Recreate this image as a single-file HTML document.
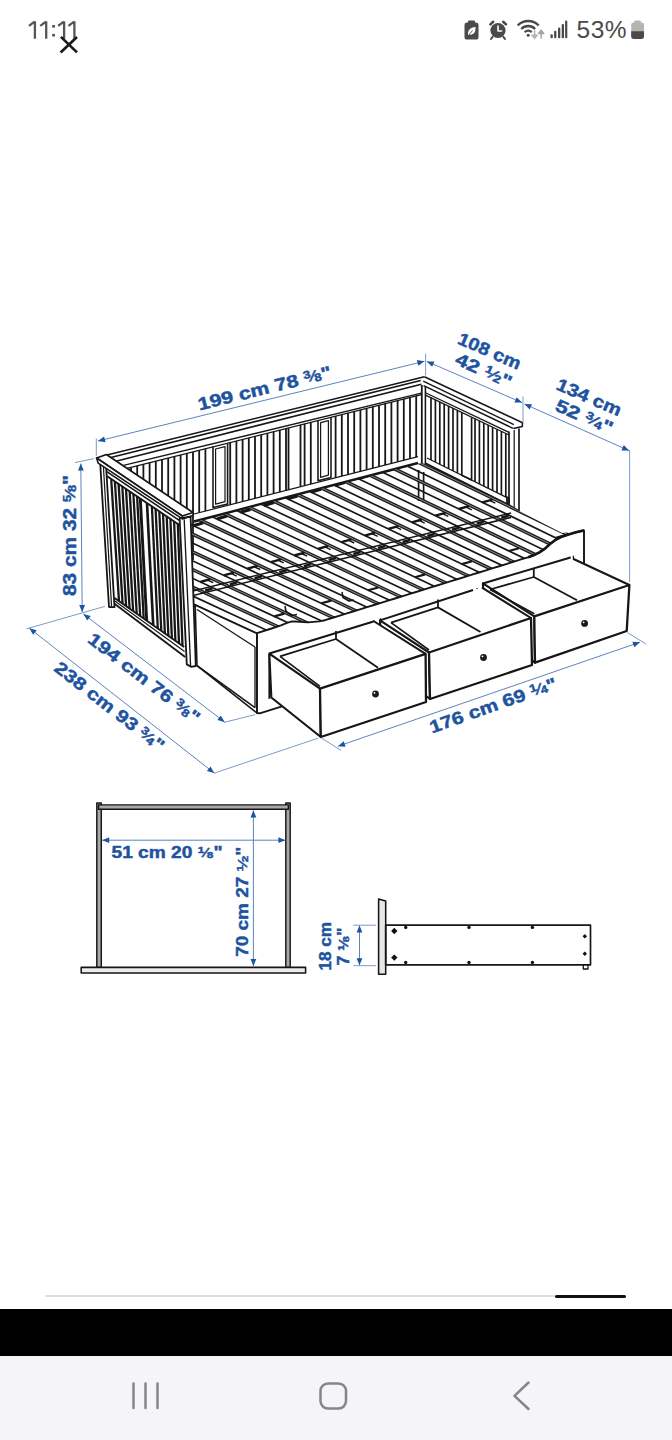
<!DOCTYPE html>
<html>
<head>
<meta charset="utf-8">
<title>Daybed dimensions</title>
<style>
  html, body { margin: 0; padding: 0; }
  body {
    width: 672px; height: 1440px; overflow: hidden; position: relative;
    background: #ffffff;
    font-family: "Liberation Sans", sans-serif;
  }
  .abs { position: absolute; }
  #pct  { left: 576.5px; top: 16px; font-size: 24.5px; line-height: 28px; color: #4a4a4a; letter-spacing: 0.55px; }
  #track { left: 45px; top: 1295.3px; width: 581px; height: 2.2px; background: #dedede; border-radius: 1px; }
  #thumb { left: 555px; top: 1294.6px; width: 71px; height: 3.4px; background: #111; border-radius: 1.7px; }
  #blackbar { left: 0; top: 1309px; width: 672px; height: 47px; background: #000; }
  #navbar { left: 0; top: 1356px; width: 672px; height: 84px; background: #f5f5f7; }
  svg { position: absolute; left: 0; top: 0; }
</style>
</head>
<body>
<div class="abs" id="pct">53%</div>
<div class="abs" id="track"></div>
<div class="abs" id="thumb"></div>
<div class="abs" id="blackbar"></div>
<div class="abs" id="navbar"></div>
<svg id="drawing" width="672" height="1440" viewBox="0 0 672 1440">
<g id="back">
<path d="M104.9 455.4L424.4 376.8" stroke="#161616" stroke-width="1.56" fill="none"/>
<path d="M110.8 457.5L420.7 380.5" stroke="#161616" stroke-width="1.56" fill="none"/>
<path d="M116.8 460.9L421.4 384.2" stroke="#161616" stroke-width="1.56" fill="none"/>
<path d="M123.5 465.4L421.4 393.2" stroke="#161616" stroke-width="1.32" fill="none"/>
<path d="M127 468.4L421.4 394.6" stroke="#161616" stroke-width="1.32" fill="none"/>
<path d="M131 467.4L131 560" stroke="#161616" stroke-width="1.8" fill="none"/>
<path d="M137.2 465.8L137.2 560" stroke="#161616" stroke-width="1.8" fill="none"/>
<path d="M143.4 464.3L143.4 560" stroke="#161616" stroke-width="1.8" fill="none"/>
<path d="M149.6 462.7L149.6 560" stroke="#161616" stroke-width="1.8" fill="none"/>
<path d="M155.8 461.2L155.8 560" stroke="#161616" stroke-width="1.8" fill="none"/>
<path d="M162 459.6L162 560" stroke="#161616" stroke-width="1.8" fill="none"/>
<path d="M168.2 458.1L168.2 560" stroke="#161616" stroke-width="1.8" fill="none"/>
<path d="M174.4 456.5L174.4 560" stroke="#161616" stroke-width="1.8" fill="none"/>
<path d="M180.6 455L180.6 560" stroke="#161616" stroke-width="1.8" fill="none"/>
<path d="M186.8 453.4L186.8 560" stroke="#161616" stroke-width="1.8" fill="none"/>
<path d="M193 451.9L193 560" stroke="#161616" stroke-width="1.8" fill="none"/>
<path d="M199.2 450.3L199.2 512.7" stroke="#161616" stroke-width="1.8" fill="none"/>
<path d="M205.4 448.7L205.4 511.1" stroke="#161616" stroke-width="1.8" fill="none"/>
<path d="M230.2 442.5L230.2 504.7" stroke="#161616" stroke-width="1.8" fill="none"/>
<path d="M236.4 441L236.4 503.1" stroke="#161616" stroke-width="1.8" fill="none"/>
<path d="M242.6 439.4L242.6 501.5" stroke="#161616" stroke-width="1.8" fill="none"/>
<path d="M248.8 437.9L248.8 500" stroke="#161616" stroke-width="1.8" fill="none"/>
<path d="M255 436.3L255 498.4" stroke="#161616" stroke-width="1.8" fill="none"/>
<path d="M261.2 434.8L261.2 496.8" stroke="#161616" stroke-width="1.8" fill="none"/>
<path d="M267.4 433.2L267.4 495.2" stroke="#161616" stroke-width="1.8" fill="none"/>
<path d="M273.6 431.7L273.6 493.6" stroke="#161616" stroke-width="1.8" fill="none"/>
<path d="M279.8 430.1L279.8 492" stroke="#161616" stroke-width="1.8" fill="none"/>
<path d="M286 428.5L286 490.4" stroke="#161616" stroke-width="1.8" fill="none"/>
<path d="M304.6 423.9L304.6 485.7" stroke="#161616" stroke-width="1.8" fill="none"/>
<path d="M310.8 422.3L310.8 484.1" stroke="#161616" stroke-width="1.8" fill="none"/>
<path d="M335.6 416.1L335.6 477.7" stroke="#161616" stroke-width="1.8" fill="none"/>
<path d="M341.8 414.6L341.8 476.1" stroke="#161616" stroke-width="1.8" fill="none"/>
<path d="M348 413L348 474.5" stroke="#161616" stroke-width="1.8" fill="none"/>
<path d="M354.2 411.4L354.2 472.9" stroke="#161616" stroke-width="1.8" fill="none"/>
<path d="M360.4 409.9L360.4 471.4" stroke="#161616" stroke-width="1.8" fill="none"/>
<path d="M366.6 408.3L366.6 469.8" stroke="#161616" stroke-width="1.8" fill="none"/>
<path d="M372.8 406.8L372.8 468.2" stroke="#161616" stroke-width="1.8" fill="none"/>
<path d="M379 405.2L379 466.6" stroke="#161616" stroke-width="1.8" fill="none"/>
<path d="M385.2 403.7L385.2 465" stroke="#161616" stroke-width="1.8" fill="none"/>
<path d="M391.4 402.1L391.4 463.4" stroke="#161616" stroke-width="1.8" fill="none"/>
<path d="M397.6 400.6L397.6 461.8" stroke="#161616" stroke-width="1.8" fill="none"/>
<path d="M403.8 399L403.8 460.2" stroke="#161616" stroke-width="1.8" fill="none"/>
<path d="M410 397.5L410 458.7" stroke="#161616" stroke-width="1.8" fill="none"/>
<path d="M416.2 395.9L416.2 457.1" stroke="#161616" stroke-width="1.8" fill="none"/>
<path d="M213 446.8L213 507.6L227.6 503.9L227.6 443.2" stroke="#161616" stroke-width="1.56" fill="none" stroke-linejoin="round"/>
<path d="M215.6 449L215.6 504.2L225 501.7L225 446.6Z" stroke="#161616" stroke-width="1.2" fill="none" stroke-linejoin="round"/>
<path d="M318 420.5L318 480.7L331 477.4L331 417.3" stroke="#161616" stroke-width="1.56" fill="none" stroke-linejoin="round"/>
<path d="M320.6 422.7L320.6 477.3L328.4 475.2L328.4 420.7Z" stroke="#161616" stroke-width="1.2" fill="none" stroke-linejoin="round"/>
<path d="M288.5 427.9L288.5 489.8" stroke="#161616" stroke-width="1.8" fill="none"/>
<path d="M300.5 424.9L300.5 486.7" stroke="#161616" stroke-width="1.8" fill="none"/>
<path d="M194 514L418 456.6" stroke="#161616" stroke-width="1.2" fill="none"/>
<path d="M194 521.5L418 463" stroke="#161616" stroke-width="2.4" fill="none"/>
</g>
<g id="right">
<path d="M424.4 376.8L522.5 422.7L522.3 426.4L513.4 428.6" stroke="#161616" stroke-width="1.56" fill="none" stroke-linejoin="round"/>
<path d="M423.2 381.2L513.8 424.6" stroke="#161616" stroke-width="1.44" fill="none"/>
<path d="M423.6 385.6L513 428.4" stroke="#161616" stroke-width="1.56" fill="none"/>
<path d="M426 393L509 432.4" stroke="#161616" stroke-width="1.32" fill="none"/>
<path d="M426 395.4L509 435" stroke="#161616" stroke-width="1.32" fill="none"/>
<path d="M431 397.8L431 460" stroke="#161616" stroke-width="1.68" fill="none"/>
<path d="M435.4 399.9L435.4 462.2" stroke="#161616" stroke-width="1.68" fill="none"/>
<path d="M439.8 402L439.8 464.3" stroke="#161616" stroke-width="1.68" fill="none"/>
<path d="M444.2 404.1L444.2 466.5" stroke="#161616" stroke-width="1.68" fill="none"/>
<path d="M448.6 406.2L448.6 468.7" stroke="#161616" stroke-width="1.68" fill="none"/>
<path d="M453 408.3L453 470.9" stroke="#161616" stroke-width="1.68" fill="none"/>
<path d="M457.4 410.4L457.4 473.1" stroke="#161616" stroke-width="1.68" fill="none"/>
<path d="M475 418.8L475 481.8" stroke="#161616" stroke-width="1.68" fill="none"/>
<path d="M479.4 420.9L479.4 483.9" stroke="#161616" stroke-width="1.68" fill="none"/>
<path d="M483.8 423L483.8 486.1" stroke="#161616" stroke-width="1.68" fill="none"/>
<path d="M488.2 425.1L488.2 488.3" stroke="#161616" stroke-width="1.68" fill="none"/>
<path d="M492.6 427.2L492.6 490.5" stroke="#161616" stroke-width="1.68" fill="none"/>
<path d="M497 429.3L497 492.7" stroke="#161616" stroke-width="1.68" fill="none"/>
<path d="M501.4 431.4L501.4 494.8" stroke="#161616" stroke-width="1.68" fill="none"/>
<path d="M505.8 433.5L505.8 497" stroke="#161616" stroke-width="1.68" fill="none"/>
<path d="M461.8 412.5L461.8 475.2L471.6 480.1L471.6 417.2" stroke="#161616" stroke-width="1.68" fill="none" stroke-linejoin="round"/>
<path d="M427 458L509 498.6" stroke="#161616" stroke-width="1.2" fill="none"/>
<path d="M425 463L510 505.6" stroke="#161616" stroke-width="1.92" fill="none"/>
<path d="M421.8 385L421.8 464" stroke="#161616" stroke-width="1.8" fill="none" stroke-linejoin="round"/>
<path d="M425.4 386.5L425.4 463.5" stroke="#161616" stroke-width="1.56" fill="none" stroke-linejoin="round"/>
<path d="M509 431.5L509 505L519 511L519 428.5" stroke="#161616" stroke-width="1.68" fill="#fff" stroke-linejoin="round"/>
<path d="M514.2 430L514.2 508" stroke="#161616" stroke-width="1.2" fill="none"/>
<path d="M506.6 496.5L506.6 503.5L509.4 505L509.4 498Z" stroke="#161616" stroke-width="0.96" fill="#222" stroke-linejoin="round"/>
</g>
<g id="base">
<clipPath id="baseclip"><path d="M190 523 L418 463.6 L425 463.4 L510 505.6 L519 511 L562 533 L583.4 531 L583.4 562 L262 652 L255 634 L190 606 Z"/></clipPath>
<g clip-path="url(#baseclip)">
<path d="M418.6 470L418.6 501" stroke="#161616" stroke-width="1.68" fill="none" stroke-linejoin="round"/>
<path d="M423.6 472L423.6 503" stroke="#161616" stroke-width="1.68" fill="none" stroke-linejoin="round"/>
<path d="M407.6 457.1L594.1 547.4" stroke="#1c1c1c" stroke-width="3.5" fill="none"/>
<path d="M407.6 457.1L594.1 547.4" stroke="#9a9a9a" stroke-width="0.9" fill="none"/>
<path d="M395.8 460.5L582.3 550.7" stroke="#161616" stroke-width="1.68" fill="none"/>
<path d="M415.4 462.2L405.3 465.1" stroke="#161616" stroke-width="3.12" fill="none"/>
<path d="M492.4 499.6L482.4 502.4" stroke="#161616" stroke-width="2.4" fill="none"/>
<path d="M489.5 500.4L495.3 503.2" stroke="#161616" stroke-width="1.44" fill="none"/>
<path d="M565.9 535.1L555.9 537.9" stroke="#161616" stroke-width="2.16" fill="none"/>
<path d="M508.5 515.7L501.2 517.7" stroke="#161616" stroke-width="2.64" fill="none"/>
<path d="M384 463.8L570.6 553.9" stroke="#1c1c1c" stroke-width="3.5" fill="none"/>
<path d="M384 463.8L570.6 553.9" stroke="#9a9a9a" stroke-width="0.9" fill="none"/>
<path d="M372.2 467.2L558.9 557.2" stroke="#161616" stroke-width="1.68" fill="none"/>
<path d="M391.8 469L381.8 471.8" stroke="#161616" stroke-width="3.12" fill="none"/>
<path d="M468.9 506.2L458.9 509" stroke="#161616" stroke-width="2.4" fill="none"/>
<path d="M466 507L471.8 509.8" stroke="#161616" stroke-width="1.44" fill="none"/>
<path d="M483.9 521.8L476.6 523.8" stroke="#161616" stroke-width="2.64" fill="none"/>
<path d="M360.5 470.6L547.2 560.4" stroke="#1c1c1c" stroke-width="3.5" fill="none"/>
<path d="M360.5 470.6L547.2 560.4" stroke="#9a9a9a" stroke-width="0.9" fill="none"/>
<path d="M348.6 474L535.4 563.7" stroke="#161616" stroke-width="1.68" fill="none"/>
<path d="M368.2 475.7L358.2 478.6" stroke="#161616" stroke-width="3.12" fill="none"/>
<path d="M445.4 512.8L435.4 515.7" stroke="#161616" stroke-width="2.4" fill="none"/>
<path d="M442.5 513.7L448.3 516.4" stroke="#161616" stroke-width="1.44" fill="none"/>
<path d="M518.9 548.2L509 551" stroke="#161616" stroke-width="2.16" fill="none"/>
<path d="M459.2 527.8L451.9 529.8" stroke="#161616" stroke-width="2.64" fill="none"/>
<path d="M336.9 477.3L523.8 566.9" stroke="#1c1c1c" stroke-width="3.5" fill="none"/>
<path d="M336.9 477.3L523.8 566.9" stroke="#9a9a9a" stroke-width="0.9" fill="none"/>
<path d="M325.1 480.7L512 570.2" stroke="#161616" stroke-width="1.68" fill="none"/>
<path d="M344.7 482.4L334.7 485.3" stroke="#161616" stroke-width="3.12" fill="none"/>
<path d="M421.9 519.5L411.9 522.3" stroke="#161616" stroke-width="2.4" fill="none"/>
<path d="M419 520.3L424.7 523.1" stroke="#161616" stroke-width="1.44" fill="none"/>
<path d="M434.6 533.9L427.3 535.9" stroke="#161616" stroke-width="2.64" fill="none"/>
<path d="M313.4 484.1L500.3 573.4" stroke="#1c1c1c" stroke-width="3.5" fill="none"/>
<path d="M313.4 484.1L500.3 573.4" stroke="#9a9a9a" stroke-width="0.9" fill="none"/>
<path d="M301.5 487.5L488.5 576.7" stroke="#161616" stroke-width="1.68" fill="none"/>
<path d="M321.1 489.2L311.1 492" stroke="#161616" stroke-width="3.12" fill="none"/>
<path d="M398.4 526.1L388.4 528.9" stroke="#161616" stroke-width="2.4" fill="none"/>
<path d="M395.5 526.9L401.2 529.7" stroke="#161616" stroke-width="1.44" fill="none"/>
<path d="M472 561.3L462 564.1" stroke="#161616" stroke-width="2.16" fill="none"/>
<path d="M409.9 539.9L402.6 542" stroke="#161616" stroke-width="2.64" fill="none"/>
<path d="M289.8 490.8L476.9 580" stroke="#1c1c1c" stroke-width="3.5" fill="none"/>
<path d="M289.8 490.8L476.9 580" stroke="#9a9a9a" stroke-width="0.9" fill="none"/>
<path d="M277.9 494.2L465.1 583.2" stroke="#161616" stroke-width="1.68" fill="none"/>
<path d="M297.6 495.9L287.6 498.8" stroke="#161616" stroke-width="3.12" fill="none"/>
<path d="M374.9 532.7L364.9 535.6" stroke="#161616" stroke-width="2.4" fill="none"/>
<path d="M371.9 533.6L377.7 536.3" stroke="#161616" stroke-width="1.44" fill="none"/>
<path d="M385.2 546L378 548" stroke="#161616" stroke-width="2.64" fill="none"/>
<path d="M266.2 497.6L453.4 586.5" stroke="#1c1c1c" stroke-width="3.5" fill="none"/>
<path d="M266.2 497.6L453.4 586.5" stroke="#9a9a9a" stroke-width="0.9" fill="none"/>
<path d="M254.4 500.9L441.6 589.7" stroke="#161616" stroke-width="1.68" fill="none"/>
<path d="M274 502.6L264 505.5" stroke="#161616" stroke-width="3.12" fill="none"/>
<path d="M351.4 539.4L341.4 542.2" stroke="#161616" stroke-width="2.4" fill="none"/>
<path d="M348.4 540.2L354.2 543" stroke="#161616" stroke-width="1.44" fill="none"/>
<path d="M425.1 574.4L415.1 577.2" stroke="#161616" stroke-width="2.16" fill="none"/>
<path d="M360.6 552L353.3 554.1" stroke="#161616" stroke-width="2.64" fill="none"/>
<path d="M242.7 504.3L430 593" stroke="#1c1c1c" stroke-width="3.5" fill="none"/>
<path d="M242.7 504.3L430 593" stroke="#9a9a9a" stroke-width="0.9" fill="none"/>
<path d="M230.8 507.7L418.2 596.2" stroke="#161616" stroke-width="1.68" fill="none"/>
<path d="M250.5 509.4L240.4 512.2" stroke="#161616" stroke-width="3.12" fill="none"/>
<path d="M327.9 546L317.9 548.8" stroke="#161616" stroke-width="2.4" fill="none"/>
<path d="M324.9 546.8L330.7 549.6" stroke="#161616" stroke-width="1.44" fill="none"/>
<path d="M335.9 558.1L328.6 560.1" stroke="#161616" stroke-width="2.64" fill="none"/>
<path d="M219.1 511.1L406.5 599.5" stroke="#1c1c1c" stroke-width="3.5" fill="none"/>
<path d="M219.1 511.1L406.5 599.5" stroke="#9a9a9a" stroke-width="0.9" fill="none"/>
<path d="M207.3 514.4L394.8 602.8" stroke="#161616" stroke-width="1.68" fill="none"/>
<path d="M226.9 516.1L216.9 519" stroke="#161616" stroke-width="3.12" fill="none"/>
<path d="M304.4 552.6L294.4 555.5" stroke="#161616" stroke-width="2.4" fill="none"/>
<path d="M301.4 553.5L307.2 556.2" stroke="#161616" stroke-width="1.44" fill="none"/>
<path d="M378.2 587.5L368.2 590.2" stroke="#161616" stroke-width="2.16" fill="none"/>
<path d="M311.2 564.1L304 566.2" stroke="#161616" stroke-width="2.64" fill="none"/>
<path d="M195.5 517.8L383.1 606" stroke="#1c1c1c" stroke-width="3.5" fill="none"/>
<path d="M195.5 517.8L383.1 606" stroke="#9a9a9a" stroke-width="0.9" fill="none"/>
<path d="M183.7 521.2L371.3 609.3" stroke="#161616" stroke-width="1.68" fill="none"/>
<path d="M203.3 522.8L193.3 525.7" stroke="#161616" stroke-width="3.12" fill="none"/>
<path d="M280.9 559.3L270.9 562.1" stroke="#161616" stroke-width="2.4" fill="none"/>
<path d="M277.9 560.1L283.7 562.8" stroke="#161616" stroke-width="1.44" fill="none"/>
<path d="M286.6 570.2L279.3 572.2" stroke="#161616" stroke-width="2.64" fill="none"/>
<path d="M172 524.5L359.6 612.5" stroke="#1c1c1c" stroke-width="3.5" fill="none"/>
<path d="M172 524.5L359.6 612.5" stroke="#9a9a9a" stroke-width="0.9" fill="none"/>
<path d="M160.1 527.9L347.9 615.8" stroke="#161616" stroke-width="1.68" fill="none"/>
<path d="M179.8 529.6L169.8 532.4" stroke="#161616" stroke-width="3.12" fill="none"/>
<path d="M257.3 565.9L247.4 568.7" stroke="#161616" stroke-width="2.4" fill="none"/>
<path d="M254.4 566.8L260.2 569.5" stroke="#161616" stroke-width="1.44" fill="none"/>
<path d="M331.3 600.6L321.3 603.3" stroke="#161616" stroke-width="2.16" fill="none"/>
<path d="M261.9 576.2L254.6 578.3" stroke="#161616" stroke-width="2.64" fill="none"/>
<path d="M148.4 531.3L336.2 619" stroke="#1c1c1c" stroke-width="3.5" fill="none"/>
<path d="M148.4 531.3L336.2 619" stroke="#9a9a9a" stroke-width="0.9" fill="none"/>
<path d="M136.6 534.7L324.4 622.3" stroke="#161616" stroke-width="1.68" fill="none"/>
<path d="M156.2 536.3L146.2 539.2" stroke="#161616" stroke-width="3.12" fill="none"/>
<path d="M233.8 572.6L223.8 575.4" stroke="#161616" stroke-width="2.4" fill="none"/>
<path d="M230.9 573.4L236.7 576.1" stroke="#161616" stroke-width="1.44" fill="none"/>
<path d="M237.2 582.3L229.9 584.4" stroke="#161616" stroke-width="2.64" fill="none"/>
<path d="M124.8 538L312.8 625.5" stroke="#1c1c1c" stroke-width="3.5" fill="none"/>
<path d="M124.8 538L312.8 625.5" stroke="#9a9a9a" stroke-width="0.9" fill="none"/>
<path d="M113 541.4L301 628.8" stroke="#161616" stroke-width="1.68" fill="none"/>
<path d="M132.7 543.1L122.7 545.9" stroke="#161616" stroke-width="3.12" fill="none"/>
<path d="M210.3 579.2L200.3 582" stroke="#161616" stroke-width="2.4" fill="none"/>
<path d="M207.4 580L213.2 582.7" stroke="#161616" stroke-width="1.44" fill="none"/>
<path d="M284.3 613.6L274.4 616.4" stroke="#161616" stroke-width="2.16" fill="none"/>
<path d="M212.5 588.4L205.2 590.4" stroke="#161616" stroke-width="2.64" fill="none"/>
<path d="M101.3 544.8L289.3 632" stroke="#1c1c1c" stroke-width="3.5" fill="none"/>
<path d="M101.3 544.8L289.3 632" stroke="#9a9a9a" stroke-width="0.9" fill="none"/>
<path d="M89.4 548.2L277.5 635.3" stroke="#161616" stroke-width="1.68" fill="none"/>
<path d="M109.1 549.8L99.1 552.6" stroke="#161616" stroke-width="3.12" fill="none"/>
<path d="M186.8 585.8L176.8 588.7" stroke="#161616" stroke-width="2.4" fill="none"/>
<path d="M183.9 586.7L189.7 589.4" stroke="#161616" stroke-width="1.44" fill="none"/>
<path d="M187.8 594.4L180.5 596.5" stroke="#161616" stroke-width="2.64" fill="none"/>
<path d="M77.7 551.5L265.9 638.5" stroke="#1c1c1c" stroke-width="3.5" fill="none"/>
<path d="M77.7 551.5L265.9 638.5" stroke="#9a9a9a" stroke-width="0.9" fill="none"/>
<path d="M65.9 554.9L254.1 641.8" stroke="#161616" stroke-width="1.68" fill="none"/>
<path d="M85.5 556.5L75.5 559.4" stroke="#161616" stroke-width="3.12" fill="none"/>
<path d="M163.3 592.5L153.3 595.3" stroke="#161616" stroke-width="2.4" fill="none"/>
<path d="M160.4 593.3L166.2 596" stroke="#161616" stroke-width="1.44" fill="none"/>
<path d="M237.4 626.7L227.4 629.5" stroke="#161616" stroke-width="2.16" fill="none"/>
<path d="M163.1 600.5L155.8 602.5" stroke="#161616" stroke-width="2.64" fill="none"/>
<path d="M190 591.8L511 513" stroke="#161616" stroke-width="1.5" fill="none"/>
<path d="M190 596.3L511 517.4" stroke="#161616" stroke-width="1.5" fill="none"/>
<path d="M285 606L286 611.5L292 615.5L297 614.5" stroke="#161616" stroke-width="1.56" fill="none" stroke-linejoin="round"/>
<path d="M342 592L343 597.5L349 601L354 600" stroke="#161616" stroke-width="1.56" fill="none" stroke-linejoin="round"/>
</g>
</g><g id="front">
<path d="M195.2 605L257 633.6L257 713L197 665.7Z" stroke="#161616" stroke-width="1.56" fill="#fff" stroke-linejoin="round"/>
<path d="M197 609.5L255 647" stroke="#161616" stroke-width="1.32" fill="none"/>
<path d="M255 647L255 707.7" stroke="#161616" stroke-width="1.32" fill="none"/>
<path d="M197 665.7L255 707.7" stroke="#161616" stroke-width="1.56" fill="none"/>
<path d="M257 633.2L270 629L281 625.4L287 622.8L292 621.4L300 621.8L308 622.4L319 621.4L325 620.2L332 618L339 615.9L346 613.7L353 611.5L360 609.4L367 607.2L374 605L381 602.8L388 600.7L395 598.5L402 596.3L409 594.2L416 592L423 589.8L430 587.6L437 585.5L444 583.3L451 581.1L458 579L465 576.8L472 574.6L479 572.5L486 570.3L493 568.1L500 566L507 563.8L514 561.6L521 559.4L528 557.3L533 555.5L539 552.6L545 548.6L550 544L555 540.2L561 537L568.6 534.4L576 532.2L584 530.4L584 566.5L571 556.7L269.3 654.5L269.3 698.8L259.7 713.3L257 713Z" stroke="none" stroke-width="0" fill="#fff" stroke-linejoin="round"/>
<path d="M269.3 654.5L269.3 698.8" stroke="#161616" stroke-width="1.8" fill="none" stroke-linejoin="round"/>
<path d="M282 706.4L259.7 713.3L257 713L257 633.2L270 629L281 625.4L287 622.8L292 621.4L300 621.8L308 622.4L319 621.4L325 620.2L332 618L339 615.9L346 613.7L353 611.5L360 609.4L367 607.2L374 605L381 602.8L388 600.7L395 598.5L402 596.3L409 594.2L416 592L423 589.8L430 587.6L437 585.5L444 583.3L451 581.1L458 579L465 576.8L472 574.6L479 572.5L486 570.3L493 568.1L500 566L507 563.8L514 561.6L521 559.4L528 557.3L533 555.5L539 552.6L545 548.6L550 544L555 540.2L561 537L568.6 534.4L576 532.2L584 530.4L584 566.5" stroke="#161616" stroke-width="1.92" fill="none" stroke-linejoin="round"/>
<path d="M528 557.3L533 555.5L539 552.6L545 548.6L550 544L555 540.2L561 537L568.6 534.4L576 532.2L584 530.4" stroke="#161616" stroke-width="2.64" fill="none" stroke-linejoin="round"/>
</g>
<g id="drawers">
<path d="M373.8 620.2L373.8 632L380.6 636L380.6 618.2" stroke="#161616" stroke-width="1.44" fill="#fff" stroke-linejoin="round"/>
<path d="M477.2 588L477.2 598L483.4 601L483.4 586" stroke="#161616" stroke-width="1.44" fill="#fff" stroke-linejoin="round"/>
<path d="M570.2 556.8L570.2 560.4L573.4 560.4L573.4 555.8" stroke="#161616" stroke-width="1.32" fill="none" stroke-linejoin="round"/>
<path d="M482.9 583.4L534.3 616.3L629.4 585L573 558.8L570.5 557.4Z" stroke="none" stroke-width="0" fill="#fff" stroke-linejoin="round"/>
<path d="M482.9 583.4L534.3 616.3L535 662.7L484.8 625.3Z" stroke="#161616" stroke-width="2.16" fill="#fff" stroke-linejoin="round"/>
<path d="M534.3 616.3L629.4 585L626.7 631L535 662.7Z" stroke="#161616" stroke-width="2.28" fill="#fff" stroke-linejoin="round"/>
<path d="M482.9 583.4L570.5 557.4" stroke="#161616" stroke-width="2.04" fill="none"/>
<path d="M629.4 585L573 558.8" stroke="#161616" stroke-width="2.04" fill="none"/>
<path d="M490 589.5L533.8 577" stroke="#161616" stroke-width="1.8" fill="none"/>
<path d="M533.8 568L533.8 577" stroke="#161616" stroke-width="1.8" fill="none"/>
<path d="M533.8 577L577 600.3" stroke="#161616" stroke-width="1.8" fill="none"/>
<path d="M490 589.5L534.3 613.7" stroke="#161616" stroke-width="1.68" fill="none"/>
<circle cx="584.6" cy="623.4" r="3.4" fill="#1a1a1a"/>
<circle cx="583.6" cy="622.3" r="0.9" fill="#fff"/>
<path d="M380 620.4L429 652.5L531 618L482 587.6L473 590Z" stroke="none" stroke-width="0" fill="#fff" stroke-linejoin="round"/>
<path d="M380 620.4L429 652.5L430 699L382.2 662.4Z" stroke="#161616" stroke-width="2.16" fill="#fff" stroke-linejoin="round"/>
<path d="M429 652.5L531 618L532 665L430 699Z" stroke="#161616" stroke-width="2.28" fill="#fff" stroke-linejoin="round"/>
<path d="M380 620.4L473 590" stroke="#161616" stroke-width="2.04" fill="none"/>
<path d="M531 618L482 587.6" stroke="#161616" stroke-width="2.04" fill="none"/>
<path d="M391 622.6L438 607.4" stroke="#161616" stroke-width="1.8" fill="none"/>
<path d="M438 599.5L438 607.4" stroke="#161616" stroke-width="1.8" fill="none"/>
<path d="M438 607.4L480.5 632" stroke="#161616" stroke-width="1.8" fill="none"/>
<path d="M391 622.6L429 650" stroke="#161616" stroke-width="1.68" fill="none"/>
<circle cx="483.5" cy="657.5" r="3.4" fill="#1a1a1a"/>
<circle cx="482.5" cy="656.4" r="0.9" fill="#fff"/>
<path d="M269.3 653.6L320 688.6L425.6 653.8L373.5 621L373.5 621.6Z" stroke="none" stroke-width="0" fill="#fff" stroke-linejoin="round"/>
<path d="M269.3 653.6L320 688.6L320.8 737L271.3 697.5Z" stroke="#161616" stroke-width="2.16" fill="#fff" stroke-linejoin="round"/>
<path d="M320 688.6L425.6 653.8L426 702L320.8 737Z" stroke="#161616" stroke-width="2.28" fill="#fff" stroke-linejoin="round"/>
<path d="M269.3 653.6L373.5 621.6" stroke="#161616" stroke-width="2.04" fill="none"/>
<path d="M425.6 653.8L373.5 621" stroke="#161616" stroke-width="2.04" fill="none"/>
<path d="M280 656.4L336 639" stroke="#161616" stroke-width="1.8" fill="none"/>
<path d="M336 631L336 639" stroke="#161616" stroke-width="1.8" fill="none"/>
<path d="M336 639L378 667.7" stroke="#161616" stroke-width="1.8" fill="none"/>
<path d="M280 656.4L320 686.4" stroke="#161616" stroke-width="1.68" fill="none"/>
<circle cx="375.5" cy="694" r="3.4" fill="#1a1a1a"/>
<circle cx="374.5" cy="692.9" r="0.9" fill="#fff"/>
</g>
<g id="left">
<path d="M96.6 458L106.4 454.5L193 512.5L193 515.4L190.6 517L195.8 666L187 665L184.5 657L114.5 604L114.5 607.2L109 607L100.2 466Z" stroke="none" stroke-width="0" fill="#fff" stroke-linejoin="round"/>
<path d="M111.2 479.1L119 601.1" stroke="#161616" stroke-width="2.28" fill="none"/>
<path d="M114.9 481.6L122.6 603.6" stroke="#161616" stroke-width="2.28" fill="none"/>
<path d="M118.6 484L126.1 606.1" stroke="#161616" stroke-width="2.28" fill="none"/>
<path d="M122.3 486.5L129.6 608.6" stroke="#161616" stroke-width="2.28" fill="none"/>
<path d="M126 489L133.1 611" stroke="#161616" stroke-width="2.28" fill="none"/>
<path d="M129.7 491.5L136.7 613.5" stroke="#161616" stroke-width="2.28" fill="none"/>
<path d="M133.4 494L140.2 616" stroke="#161616" stroke-width="2.28" fill="none"/>
<path d="M137.1 496.4L143.7 618.5" stroke="#161616" stroke-width="2.28" fill="none"/>
<path d="M151.9 506.4L157.8 628.5" stroke="#161616" stroke-width="2.28" fill="none"/>
<path d="M155.6 508.8L161.3 631" stroke="#161616" stroke-width="2.28" fill="none"/>
<path d="M159.3 511.3L164.9 633.5" stroke="#161616" stroke-width="2.28" fill="none"/>
<path d="M163 513.8L168.4 635.9" stroke="#161616" stroke-width="2.28" fill="none"/>
<path d="M166.7 516.3L171.9 638.4" stroke="#161616" stroke-width="2.28" fill="none"/>
<path d="M170.4 518.8L175.4 640.9" stroke="#161616" stroke-width="2.28" fill="none"/>
<path d="M174.1 521.2L179 643.4" stroke="#161616" stroke-width="2.28" fill="none"/>
<path d="M177.8 523.7L182.5 645.9" stroke="#161616" stroke-width="2.28" fill="none"/>
<path d="M140.3 498.6L146.7 620.7" stroke="#161616" stroke-width="2.88" fill="none"/>
<path d="M147 503.1L153.2 625.2" stroke="#161616" stroke-width="2.64" fill="none"/>
<path d="M106.4 471.4L179.6 520.6" stroke="#161616" stroke-width="1.56" fill="none"/>
<path d="M106.8 476L179.8 525.2" stroke="#161616" stroke-width="1.92" fill="none"/>
<path d="M114.5 598L184.2 647" stroke="#161616" stroke-width="1.92" fill="none"/>
<path d="M114.5 600.8L184.6 651.6" stroke="#161616" stroke-width="1.2" fill="none"/>
<path d="M114.5 603.8L185.2 657" stroke="#161616" stroke-width="1.8" fill="none"/>
<path d="M100.2 463L109 607L114.5 607.2L106.2 468Z" stroke="#161616" stroke-width="1.8" fill="#fff" stroke-linejoin="round"/>
<path d="M103.4 466L111.6 607" stroke="#161616" stroke-width="1.2" fill="none"/>
<path d="M179.6 518.4L186.8 664.4L191 666.8L195.8 666L190.6 516.6Z" stroke="#161616" stroke-width="1.8" fill="#fff" stroke-linejoin="round"/>
<path d="M184.2 519.4L190.6 666.4" stroke="#161616" stroke-width="1.32" fill="none"/>
<path d="M96.6 458L106.4 454.5L193 512.5L182.3 516Z" stroke="#161616" stroke-width="1.68" fill="#fff" stroke-linejoin="round"/>
<path d="M96.6 458L98.2 463.2L182.3 518.9L182.3 516Z" stroke="#161616" stroke-width="1.56" fill="#fff" stroke-linejoin="round"/>
<path d="M193 512.5L193 515.4L182.3 518.9" stroke="#161616" stroke-width="1.56" fill="none" stroke-linejoin="round"/>
</g><g id="dims">
<path d="M96.3 438.4L96.3 455.8" stroke="#7a9bca" stroke-width="1.0" fill="none"/>
<path d="M425.6 353.6L425.6 375.4" stroke="#7a9bca" stroke-width="1.0" fill="none"/>
<path d="M98 441L424.4 361.3" stroke="#5c84bd" stroke-width="1.0" fill="none"/>
<path d="M98 441L104.1 436.5L105.5 442.2Z" fill="#1d539f"/>
<path d="M424.4 361.3L418.3 365.8L416.9 360.1Z" fill="#1d539f"/>
<path d="M523 396.4L523 422.6" stroke="#7a9bca" stroke-width="1.0" fill="none"/>
<path d="M426.8 361.4L522 402.6" stroke="#5c84bd" stroke-width="1.0" fill="none"/>
<path d="M426.8 361.4L434.4 361.5L432.1 366.8Z" fill="#1d539f"/>
<path d="M522 402.6L514.4 402.5L516.7 397.2Z" fill="#1d539f"/>
<path d="M629.6 450L629.6 582" stroke="#7a9bca" stroke-width="1.0" fill="none"/>
<path d="M524.4 404L629 450.6" stroke="#5c84bd" stroke-width="1.0" fill="none"/>
<path d="M524.4 404L532 404.2L529.6 409.5Z" fill="#1d539f"/>
<path d="M629 450.6L621.4 450.4L623.8 445.1Z" fill="#1d539f"/>
<path d="M75 462.6L93.8 458.6" stroke="#7a9bca" stroke-width="1.0" fill="none"/>
<path d="M26.6 628.8L104.8 606.4" stroke="#7a9bca" stroke-width="1.0" fill="none"/>
<path d="M80.8 463.6L82.2 612" stroke="#5c84bd" stroke-width="1.0" fill="none"/>
<path d="M80.8 463.6L83.8 470.6L78 470.6Z" fill="#1d539f"/>
<path d="M82.2 612L79.2 605L85 605Z" fill="#1d539f"/>
<path d="M224 722.4L255.4 714.6" stroke="#7a9bca" stroke-width="1.0" fill="none"/>
<path d="M83.4 614L224.6 722" stroke="#5c84bd" stroke-width="1.0" fill="none"/>
<path d="M83.4 614L90.7 615.9L87.2 620.6Z" fill="#1d539f"/>
<path d="M224.6 722L217.3 720.1L220.8 715.4Z" fill="#1d539f"/>
<path d="M214 773.2L318 738.2" stroke="#7a9bca" stroke-width="1.0" fill="none"/>
<path d="M29.4 628.2L214.2 773" stroke="#5c84bd" stroke-width="1.0" fill="none"/>
<path d="M29.4 628.2L36.7 630.2L33.1 634.8Z" fill="#1d539f"/>
<path d="M214.2 773L206.9 771L210.5 766.4Z" fill="#1d539f"/>
<path d="M321.4 738L341 750.4" stroke="#7a9bca" stroke-width="1.0" fill="none"/>
<path d="M627.4 632.6L646 644" stroke="#7a9bca" stroke-width="1.0" fill="none"/>
<path d="M338 746.2L640 642.2" stroke="#5c84bd" stroke-width="1.0" fill="none"/>
<path d="M338 746.2L343.7 741.2L345.6 746.7Z" fill="#1d539f"/>
<path d="M640 642.2L634.3 647.2L632.4 641.7Z" fill="#1d539f"/>
<text transform="translate(199.5 410.5) rotate(-13.9)" font-family="Liberation Sans, sans-serif" font-weight="bold" font-size="17.6" fill="#1d539f" stroke="#1d539f" stroke-width="0.45" text-anchor="start" textLength="137" lengthAdjust="spacingAndGlyphs">199 cm 78 <tspan font-size="10.9" dy="-5.3">3</tspan><tspan font-size="14.1" dy="3.8">&#8260;</tspan><tspan font-size="10.9" dy="1.5">8</tspan>&quot;</text>
<text transform="translate(456.5 343.2) rotate(23.5)" font-family="Liberation Sans, sans-serif" font-weight="bold" font-size="17.6" fill="#1d539f" stroke="#1d539f" stroke-width="0.45" text-anchor="start" textLength="67" lengthAdjust="spacingAndGlyphs">108 cm</text>
<text transform="translate(454 363.6) rotate(24.3)" font-family="Liberation Sans, sans-serif" font-weight="bold" font-size="17.6" fill="#1d539f" stroke="#1d539f" stroke-width="0.45" text-anchor="start" textLength="60" lengthAdjust="spacingAndGlyphs">42 <tspan font-size="10.9" dy="-5.3">1</tspan><tspan font-size="14.1" dy="3.8">&#8260;</tspan><tspan font-size="10.9" dy="1.5">2</tspan>&quot;</text>
<text transform="translate(555 389) rotate(23.5)" font-family="Liberation Sans, sans-serif" font-weight="bold" font-size="17.6" fill="#1d539f" stroke="#1d539f" stroke-width="0.45" text-anchor="start" textLength="69" lengthAdjust="spacingAndGlyphs">134 cm</text>
<text transform="translate(554 410) rotate(23.5)" font-family="Liberation Sans, sans-serif" font-weight="bold" font-size="17.6" fill="#1d539f" stroke="#1d539f" stroke-width="0.45" text-anchor="start" textLength="61" lengthAdjust="spacingAndGlyphs">52 <tspan font-size="10.9" dy="-5.3">3</tspan><tspan font-size="14.1" dy="3.8">&#8260;</tspan><tspan font-size="10.9" dy="1.5">4</tspan>&quot;</text>
<text transform="translate(76 596) rotate(-90)" font-family="Liberation Sans, sans-serif" font-weight="bold" font-size="17.6" fill="#1d539f" stroke="#1d539f" stroke-width="0.45" text-anchor="start" textLength="121" lengthAdjust="spacingAndGlyphs">83 cm 32 <tspan font-size="10.9" dy="-5.3">5</tspan><tspan font-size="14.1" dy="3.8">&#8260;</tspan><tspan font-size="10.9" dy="1.5">8</tspan>&quot;</text>
<text transform="translate(86.5 641.5) rotate(37.6)" font-family="Liberation Sans, sans-serif" font-weight="bold" font-size="17.6" fill="#1d539f" stroke="#1d539f" stroke-width="0.45" text-anchor="start" textLength="136" lengthAdjust="spacingAndGlyphs">194 cm 76 <tspan font-size="10.9" dy="-5.3">3</tspan><tspan font-size="14.1" dy="3.8">&#8260;</tspan><tspan font-size="10.9" dy="1.5">8</tspan>&quot;</text>
<text transform="translate(53 670) rotate(38.0)" font-family="Liberation Sans, sans-serif" font-weight="bold" font-size="17.6" fill="#1d539f" stroke="#1d539f" stroke-width="0.45" text-anchor="start" textLength="134" lengthAdjust="spacingAndGlyphs">238 cm 93 <tspan font-size="10.9" dy="-5.3">3</tspan><tspan font-size="14.1" dy="3.8">&#8260;</tspan><tspan font-size="10.9" dy="1.5">4</tspan>&quot;</text>
<text transform="translate(432 733.5) rotate(-19.6)" font-family="Liberation Sans, sans-serif" font-weight="bold" font-size="17.6" fill="#1d539f" stroke="#1d539f" stroke-width="0.45" text-anchor="start" textLength="134" lengthAdjust="spacingAndGlyphs">176 cm 69 <tspan font-size="10.9" dy="-5.3">1</tspan><tspan font-size="14.1" dy="3.8">&#8260;</tspan><tspan font-size="10.9" dy="1.5">4</tspan>&quot;</text>
</g>
<g id="topview">
<path d="M96.8 803L96.8 967.4L101.3 967.4L101.3 803Z" stroke="#161616" stroke-width="1.44" fill="#a8a8a8" stroke-linejoin="round"/>
<path d="M285.8 803L285.8 967.4L290.2 967.4L290.2 803Z" stroke="#161616" stroke-width="1.44" fill="#a8a8a8" stroke-linejoin="round"/>
<path d="M98.6 804.9L98.6 809.3L288.4 809.3L288.4 804.9Z" stroke="#161616" stroke-width="1.44" fill="#a8a8a8" stroke-linejoin="round"/>
<path d="M81.2 967.4L81.2 973L305.6 973L305.6 967.4Z" stroke="#161616" stroke-width="1.56" fill="#ececec" stroke-linejoin="round"/>
<path d="M102.2 840.2L285.4 840.2" stroke="#5c84bd" stroke-width="1.0" fill="none"/>
<path d="M102.2 840.2L109.2 837.3L109.2 843.1Z" fill="#1d539f"/>
<path d="M285.4 840.2L278.4 843.1L278.4 837.3Z" fill="#1d539f"/>
<path d="M253.4 810.4L253.4 966" stroke="#5c84bd" stroke-width="1.0" fill="none"/>
<path d="M253.4 810.4L256.3 817.4L250.5 817.4Z" fill="#1d539f"/>
<path d="M253.4 966L250.5 959L256.3 959Z" fill="#1d539f"/>
<text transform="translate(111.5 858) rotate(0)" font-family="Liberation Sans, sans-serif" font-weight="bold" font-size="16" fill="#1d539f" stroke="#1d539f" stroke-width="0.45" text-anchor="start" textLength="111" lengthAdjust="spacingAndGlyphs">51 cm 20 <tspan font-size="9.9" dy="-4.8">1</tspan><tspan font-size="12.8" dy="3.5">&#8260;</tspan><tspan font-size="9.9" dy="1.3">8</tspan>&quot;</text>
<text transform="translate(247.8 956.8) rotate(-90)" font-family="Liberation Sans, sans-serif" font-weight="bold" font-size="16" fill="#1d539f" stroke="#1d539f" stroke-width="0.45" text-anchor="start" textLength="110" lengthAdjust="spacingAndGlyphs">70 cm 27 <tspan font-size="9.9" dy="-4.8">1</tspan><tspan font-size="12.8" dy="3.5">&#8260;</tspan><tspan font-size="9.9" dy="1.3">2</tspan>&quot;</text>
</g>
<g id="sideview">
<path d="M378.6 899L378.6 974.3L385.7 974.3L385.7 901Z" stroke="#161616" stroke-width="1.56" fill="#e6e6e6" stroke-linejoin="round"/>
<path d="M385.7 925.2L590.5 925.2L590.5 964.8L385.7 964.8Z" stroke="#161616" stroke-width="1.68" fill="none" stroke-linejoin="round"/>
<path d="M583.3 964.8L583.3 969L588 969L588 964.8" stroke="#161616" stroke-width="1.32" fill="none" stroke-linejoin="round"/>
<path d="M391.1 931L394.3 927.8L397.5 931L394.3 934.2Z" fill="#111"/>
<path d="M391.1 957.6L394.3 954.4L397.5 957.6L394.3 960.8Z" fill="#111"/>
<path d="M582.6 936.2L584.8 934L587 936.2L584.8 938.4Z" fill="#111"/>
<path d="M582.6 953.8L584.8 951.6L587 953.8L584.8 956Z" fill="#111"/>
<circle cx="405.7" cy="927.4" r="1.7" fill="#111"/>
<circle cx="405.7" cy="962.4" r="1.7" fill="#111"/>
<circle cx="469" cy="927.4" r="1.7" fill="#111"/>
<circle cx="469" cy="962.4" r="1.7" fill="#111"/>
<circle cx="532.4" cy="927.4" r="1.7" fill="#111"/>
<circle cx="532.4" cy="962.4" r="1.7" fill="#111"/>
<path d="M353.4 925.2L376 925.2" stroke="#7a9bca" stroke-width="1.0" fill="none"/>
<path d="M353.4 965.7L376 965.7" stroke="#7a9bca" stroke-width="1.0" fill="none"/>
<path d="M359.5 925.6L359.5 965.3" stroke="#5c84bd" stroke-width="1.0" fill="none"/>
<path d="M359.5 925.6L362.4 932.6L356.6 932.6Z" fill="#1d539f"/>
<path d="M359.5 965.3L356.6 958.3L362.4 958.3Z" fill="#1d539f"/>
<text transform="translate(331 970.5) rotate(-90)" font-family="Liberation Sans, sans-serif" font-weight="bold" font-size="16" fill="#1d539f" stroke="#1d539f" stroke-width="0.45" text-anchor="start" textLength="48.5" lengthAdjust="spacingAndGlyphs">18 cm</text>
<text transform="translate(349 965.6) rotate(-90)" font-family="Liberation Sans, sans-serif" font-weight="bold" font-size="16" fill="#1d539f" stroke="#1d539f" stroke-width="0.45" text-anchor="start" textLength="38" lengthAdjust="spacingAndGlyphs">7 <tspan font-size="9.9" dy="-4.8">1</tspan><tspan font-size="12.8" dy="3.5">&#8260;</tspan><tspan font-size="9.9" dy="1.3">8</tspan>&quot;</text>
</g></svg>
<svg id="chrome" width="672" height="1440" viewBox="0 0 672 1440">
  <!-- time 11:11 drawn as strokes -->
  <g stroke="#555" fill="none" stroke-linecap="butt" stroke-linejoin="miter">
    <path d="M29 25.9 L34.6 21.6 M34.9 21.2 V38.7" stroke-width="2.3"/>
    <path d="M40.3 25.9 L45.9 21.6 M46.2 21.2 V38.7" stroke-width="2.3"/>
    <path d="M58.2 25.9 L63.8 21.6 M64.1 21.2 V38.7" stroke-width="2.3"/>
    <path d="M68.5 25.9 L74.1 21.6 M74.4 21.2 V38.7" stroke-width="2.3"/>
  </g>
  <rect x="52.2" y="25" width="2.8" height="2.6" fill="#555"/>
  <rect x="52.2" y="33.9" width="2.8" height="2.6" fill="#555"/>
  <!-- close X -->
  <path d="M60.9 36.9 L77 52.4 M77 36.9 L60.6 52.4" stroke="#1a1a1a" stroke-width="2.7" fill="none"/>
  <!-- battery saver icon -->
  <g fill="#4a4a4a">
    <rect x="468" y="20.5" width="7" height="3" rx="1"/>
    <rect x="464.5" y="22.5" width="14" height="17" rx="2.6"/>
  </g>
  <path d="M468 35.5 C467.5 30 470 27.5 475.5 27 C476 32.5 473.5 35 468.8 34.8 Z" fill="#fff"/>
  <path d="M468 36 L472.5 30.5" stroke="#4a4a4a" stroke-width="0.9" fill="none"/>
  <!-- alarm -->
  <g>
    <circle cx="498" cy="30.5" r="7.6" fill="#4a4a4a"/>
    <path d="M498 26 V31 H501.6" stroke="#fff" stroke-width="1.6" fill="none" stroke-linecap="round" stroke-linejoin="round"/>
    <path d="M490.4 24.4 L493.2 21.8 M506 24.4 L503.2 21.8" stroke="#4a4a4a" stroke-width="2.6" stroke-linecap="round"/>
    <path d="M492.6 36.8 L491 39 M503.4 36.8 L505 39" stroke="#4a4a4a" stroke-width="2" stroke-linecap="round"/>
  </g>
  <!-- wifi -->
  <g fill="none" stroke="#4a4a4a" stroke-width="2.3" stroke-linecap="butt">
    <path d="M517.70 25.46 A14.6 14.6 0 0 1 538.70 25.46"/>
    <path d="M521.29 28.93 A9.6 9.6 0 0 1 535.11 28.93"/>
    <path d="M524.68 32.20 A4.9 4.9 0 0 1 531.72 32.20"/>
  </g>
  <circle cx="528.2" cy="35.2" r="1.55" fill="#4a4a4a"/>
  <path d="M534.6 30.2 V37 M532 35.2 L534.6 38.4 L537.2 35.2 Z" stroke="#b4b4b4" stroke-width="1.5" fill="#b4b4b4" stroke-linejoin="round"/>
  <path d="M541.2 38.4 V31.6 M538.6 33.4 L541.2 30.2 L543.8 33.4 Z" stroke="#a4a4a4" stroke-width="1.5" fill="#a4a4a4" stroke-linejoin="round"/>
  <!-- signal -->
  <g fill="#4a4a4a">
    <rect x="550.5" y="34.3" width="2.3" height="4" rx="1"/>
    <rect x="554.1" y="30.8" width="2.3" height="7.5" rx="1"/>
    <rect x="558" y="27.6" width="2.3" height="10.7" rx="1"/>
    <rect x="561.7" y="24.1" width="2.3" height="14.2" rx="1"/>
    <rect x="565.1" y="20.6" width="2.2" height="17.7" rx="1"/>
  </g>
  <!-- battery -->
  <rect x="634.2" y="20.6" width="6.6" height="3" rx="1" fill="#b4b4b4"/>
  <rect x="631.2" y="22.4" width="12.8" height="16.6" rx="2.4" fill="#b4b4b4"/>
  <path d="M631.2 31.2 H644 V36.6 Q644 39 641.6 39 H633.6 Q631.2 39 631.2 36.6 Z" fill="#4a4a4a"/>
  <!-- nav icons -->
  <g stroke="#858585" stroke-width="2.5" stroke-linecap="round" fill="none">
    <path d="M133.5 1383.5 V1408 M145.5 1383.5 V1408 M157.5 1383.5 V1408"/>
    <rect x="320.5" y="1383.5" width="25.5" height="25" rx="7.5"/>
    <path d="M528.5 1382.5 L514.5 1395.8 L528.5 1409" stroke-linejoin="round"/>
  </g>
</svg>
</body></html>
